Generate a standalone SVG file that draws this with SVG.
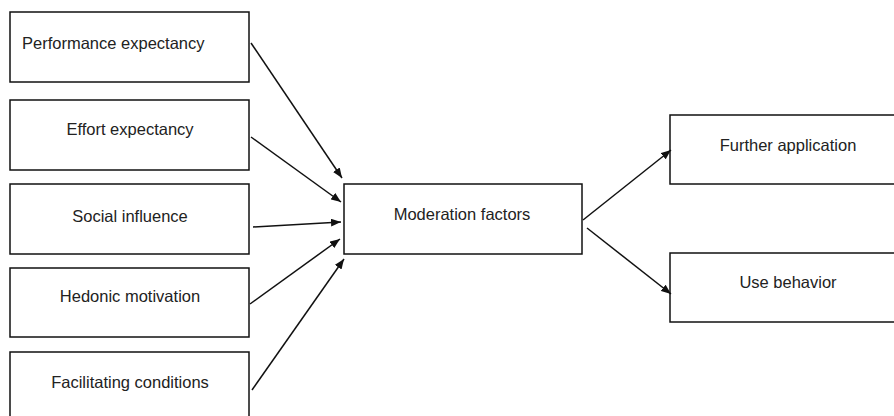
<svg xmlns="http://www.w3.org/2000/svg" width="894" height="416" viewBox="0 0 894 416">
<defs>
<style>
.box{fill:#fff;stroke:#111;stroke-width:1.5}
.lbl{font-family:"Liberation Sans",Arial,sans-serif;font-size:16.5px;fill:#222}
.c{text-anchor:middle}
.edge{stroke:#111;stroke-width:1.5;fill:none;marker-end:url(#ah)}
</style>
<marker id="ah" markerUnits="userSpaceOnUse" markerWidth="10" markerHeight="8" refX="10" refY="4" orient="auto">
<path d="M0,0 L10,4 L0,8 z" fill="#111"/>
</marker>
</defs>
<rect width="894" height="416" fill="#fff"/>
<g id="performance-expectancy"><rect class="box" x="10" y="12" width="239" height="70"/><text class="lbl" x="22" y="49">Performance expectancy</text></g>
<g id="effort-expectancy"><rect class="box" x="10" y="100" width="239" height="70"/><text class="lbl c" x="130" y="135">Effort expectancy</text></g>
<g id="social-influence"><rect class="box" x="10" y="184" width="239" height="70"/><text class="lbl c" x="130" y="222">Social influence</text></g>
<g id="hedonic-motivation"><rect class="box" x="10" y="268" width="239" height="69"/><text class="lbl c" x="130" y="302">Hedonic motivation</text></g>
<g id="facilitating-conditions"><rect class="box" x="10" y="352" width="239" height="80"/><text class="lbl c" x="130" y="388">Facilitating conditions</text></g>
<g id="moderation-factors"><rect class="box" x="344" y="184" width="238" height="70"/><text class="lbl c" x="462" y="220">Moderation factors</text></g>
<g id="further-application"><rect class="box" x="670" y="115" width="240" height="69"/><text class="lbl c" x="788" y="151">Further application</text></g>
<g id="use-behavior"><rect class="box" x="670" y="253" width="240" height="69"/><text class="lbl c" x="788" y="288">Use behavior</text></g>
<g id="connectors">
<line class="edge" x1="251" y1="43" x2="342" y2="178"/>
<line class="edge" x1="251" y1="137" x2="341" y2="202"/>
<line class="edge" x1="253" y1="227" x2="341" y2="222"/>
<line class="edge" x1="250" y1="304" x2="340" y2="239"/>
<line class="edge" x1="252" y1="390" x2="344" y2="259"/>
<line class="edge" x1="583" y1="220" x2="671" y2="150"/>
<line class="edge" x1="587" y1="228" x2="671" y2="294"/>
</g>
</svg>
